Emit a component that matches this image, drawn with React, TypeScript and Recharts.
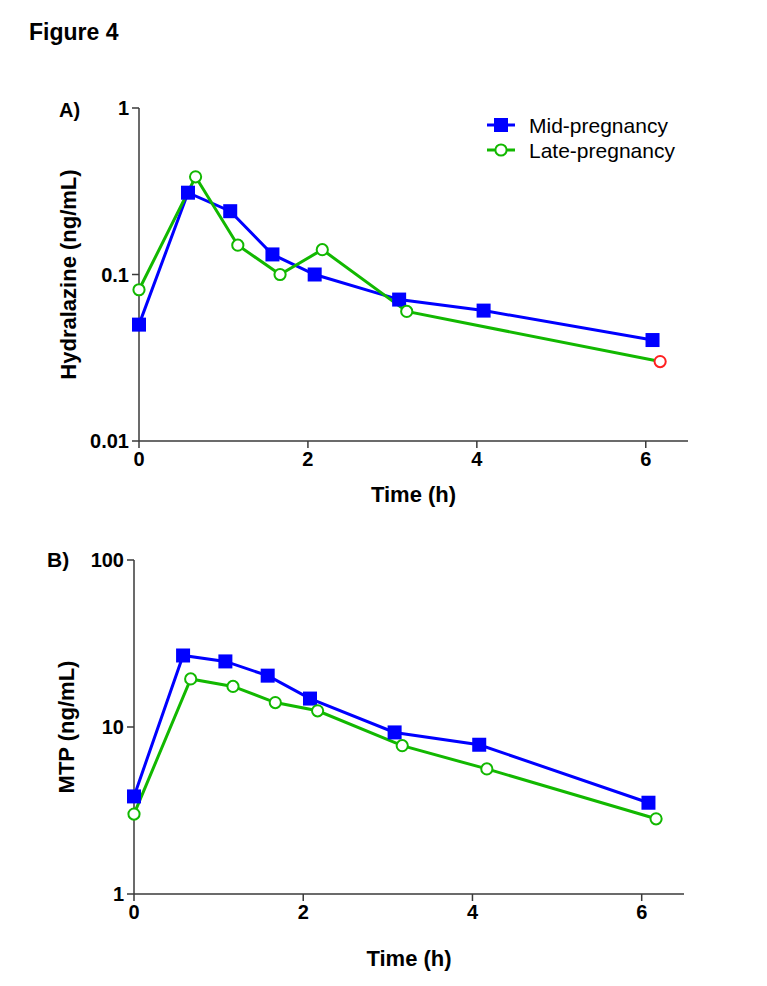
import React from 'react';
import { LineChart, Line, XAxis, YAxis, Label } from 'recharts';

const FONT = '"Liberation Sans", Arial, Helvetica, sans-serif';
const BLUE = '#0000ff';
const GREEN = '#12b800';
const RED = '#ff2020';
const AXIS = '#3a3a3a';

// Sampling times (h)
const midTimes = [0, 0.58, 1.08, 1.58, 2.08, 3.08, 4.08, 6.08];
const lateTimes = [0, 0.67, 1.17, 1.67, 2.17, 3.17, 4.17, 6.17];
const hydralazineLateTimes = [0, 0.67, 1.17, 1.67, 2.17, 3.17, 6.17];

// Panel A: hydralazine (ng/mL)
const hydralazineMid = [0.05, 0.31, 0.24, 0.132, 0.1, 0.0707, 0.0607, 0.0404];
const hydralazineLate = [0.081, 0.386, 0.15, 0.1, 0.141, 0.06, 0.03];

// Panel B: MTP (ng/mL)
const mtpMid = [3.84, 26.8, 24.7, 20.3, 14.8, 9.28, 7.83, 3.52];
const mtpLate = [3.01, 19.4, 17.5, 14.0, 12.5, 7.73, 5.61, 2.82];

const timeTicks = [0, 2, 4, 6];
const hydralazineTicks = [0.01, 0.1, 1];
const mtpTicks = [1, 10, 100];
const seriesNames = ['Mid-pregnancy', 'Late-pregnancy'];

const toPoints = (times: number[], values: number[]) =>
  times.map((t, i) => ({ t, v: values[i] }));

const tickStyle = { fill: '#000', fontSize: 20, fontWeight: 700, fontFamily: FONT };

const SquareDot = (props: any) => {
  const { cx, cy, index } = props;
  if (cx == null || cy == null) return null;
  return <rect key={`sq-${index}`} x={cx - 7} y={cy - 7} width={14} height={14} fill={BLUE} />;
};

const makeCircleDot = (count: number, highlightLast: boolean) => (props: any) => {
  const { cx, cy, index } = props;
  if (cx == null || cy == null) return null;
  const stroke = highlightLast && index === count - 1 ? RED : GREEN;
  return (
    <circle key={`ci-${index}`} cx={cx} cy={cy} r={5.6} fill="#fff" stroke={stroke} strokeWidth={2} />
  );
};

const yTitle = (text: string, cx: number) => (props: any) => {
  const vb = props.viewBox || {};
  const cy = vb.y + vb.height / 2;
  return (
    <text
      x={cx}
      y={cy}
      transform={`rotate(-90 ${cx} ${cy})`}
      textAnchor="middle"
      dominantBaseline="central"
      fontFamily={FONT}
      fontWeight={700}
      fontSize={22}
      fill="#000"
    >
      {text}
    </text>
  );
};

const xTitle = (text: string, dy: number) => (props: any) => {
  const vb = props.viewBox || {};
  return (
    <text
      x={vb.x + vb.width / 2}
      y={vb.y + dy}
      textAnchor="middle"
      dominantBaseline="central"
      fontFamily={FONT}
      fontWeight={700}
      fontSize={22}
      fill="#000"
    >
      {text}
    </text>
  );
};

const LegendBox = () => (
  <svg width={230} height={52} style={{ display: 'block', overflow: 'visible' }}>
    <line x1={2} y1={13} x2={30} y2={13} stroke={BLUE} strokeWidth={3} />
    <rect x={9} y={6} width={14} height={14} fill={BLUE} />
    <text x={44} y={13} dominantBaseline="central" fontFamily={FONT} fontSize={21} fill="#000">
      {seriesNames[0]}
    </text>
    <line x1={2} y1={38} x2={30} y2={38} stroke={GREEN} strokeWidth={3} />
    <circle cx={16} cy={38} r={5.6} fill="#fff" stroke={GREEN} strokeWidth={2} />
    <text x={44} y={38} dominantBaseline="central" fontFamily={FONT} fontSize={21} fill="#000">
      {seriesNames[1]}
    </text>
  </svg>
);

const axisLine = { stroke: AXIS, strokeWidth: 1.5 };
const tickLine = { stroke: AXIS, strokeWidth: 1.5 };

export default function App() {
  const hydMidData = toPoints(midTimes, hydralazineMid);
  const hydLateData = toPoints(hydralazineLateTimes, hydralazineLate);
  const mtpMidData = toPoints(midTimes, mtpMid);
  const mtpLateData = toPoints(lateTimes, mtpLate);

  return (
    <div style={{ position: 'absolute', left: 0, top: 0, width: 767, height: 986, background: '#fff' }}>
      <svg
        width={767}
        height={986}
        style={{ position: 'absolute', left: 0, top: 0, pointerEvents: 'none' }}
      >
        <text x={29} y={40} fontFamily={FONT} fontWeight={700} fontSize={23} fill="#000">
          Figure 4
        </text>
        <text x={59} y={117} fontFamily={FONT} fontWeight={700} fontSize={20} fill="#000">
          A)
        </text>
        <text x={47} y={567} fontFamily={FONT} fontWeight={700} fontSize={21} fill="#000">
          B)
        </text>
      </svg>

      <div style={{ position: 'absolute', left: 0, top: 0 }}>
        <LineChart width={767} height={515} margin={{ top: 108, right: 79, bottom: 0, left: 0 }}>
          <XAxis
            type="number"
            dataKey="t"
            domain={[0, 6.5]}
            ticks={timeTicks}
            height={74}
            tick={tickStyle}
            tickSize={7}
            tickMargin={4}
            axisLine={axisLine}
            tickLine={tickLine}
          >
            <Label content={xTitle('Time (h)', 53)} />
          </XAxis>
          <YAxis
            type="number"
            dataKey="v"
            scale="log"
            domain={[0.01, 1]}
            ticks={hydralazineTicks}
            width={139}
            tick={tickStyle}
            tickSize={7}
            tickMargin={3}
            tickFormatter={(v: number) => String(v)}
            axisLine={axisLine}
            tickLine={tickLine}
          >
            <Label content={yTitle('Hydralazine (ng/mL)', 68)} />
          </YAxis>
          <Line
            data={hydMidData}
            dataKey="v"
            name={seriesNames[0]}
            stroke={BLUE}
            strokeWidth={3}
            dot={SquareDot}
            isAnimationActive={false}
          />
          <Line
            data={hydLateData}
            dataKey="v"
            name={seriesNames[1]}
            stroke={GREEN}
            strokeWidth={3}
            dot={makeCircleDot(hydLateData.length, true)}
            isAnimationActive={false}
          />
        </LineChart>
      </div>

      <div style={{ position: 'absolute', left: 485, top: 112 }}>
        <LegendBox />
      </div>

      <div style={{ position: 'absolute', left: 0, top: 515 }}>
        <LineChart width={767} height={471} margin={{ top: 45, right: 83, bottom: 0, left: 0 }}>
          <XAxis
            type="number"
            dataKey="t"
            domain={[0, 6.5]}
            ticks={timeTicks}
            height={92}
            tick={tickStyle}
            tickSize={7}
            tickMargin={4}
            axisLine={axisLine}
            tickLine={tickLine}
          >
            <Label content={xTitle('Time (h)', 64)} />
          </XAxis>
          <YAxis
            type="number"
            dataKey="v"
            scale="log"
            domain={[1, 100]}
            ticks={mtpTicks}
            width={134}
            tick={tickStyle}
            tickSize={7}
            tickMargin={3}
            tickFormatter={(v: number) => String(v)}
            axisLine={axisLine}
            tickLine={tickLine}
          >
            <Label content={yTitle('MTP (ng/mL)', 66)} />
          </YAxis>
          <Line
            data={mtpMidData}
            dataKey="v"
            name={seriesNames[0]}
            stroke={BLUE}
            strokeWidth={3}
            dot={SquareDot}
            isAnimationActive={false}
          />
          <Line
            data={mtpLateData}
            dataKey="v"
            name={seriesNames[1]}
            stroke={GREEN}
            strokeWidth={3}
            dot={makeCircleDot(mtpLateData.length, false)}
            isAnimationActive={false}
          />
        </LineChart>
      </div>
    </div>
  );
}
